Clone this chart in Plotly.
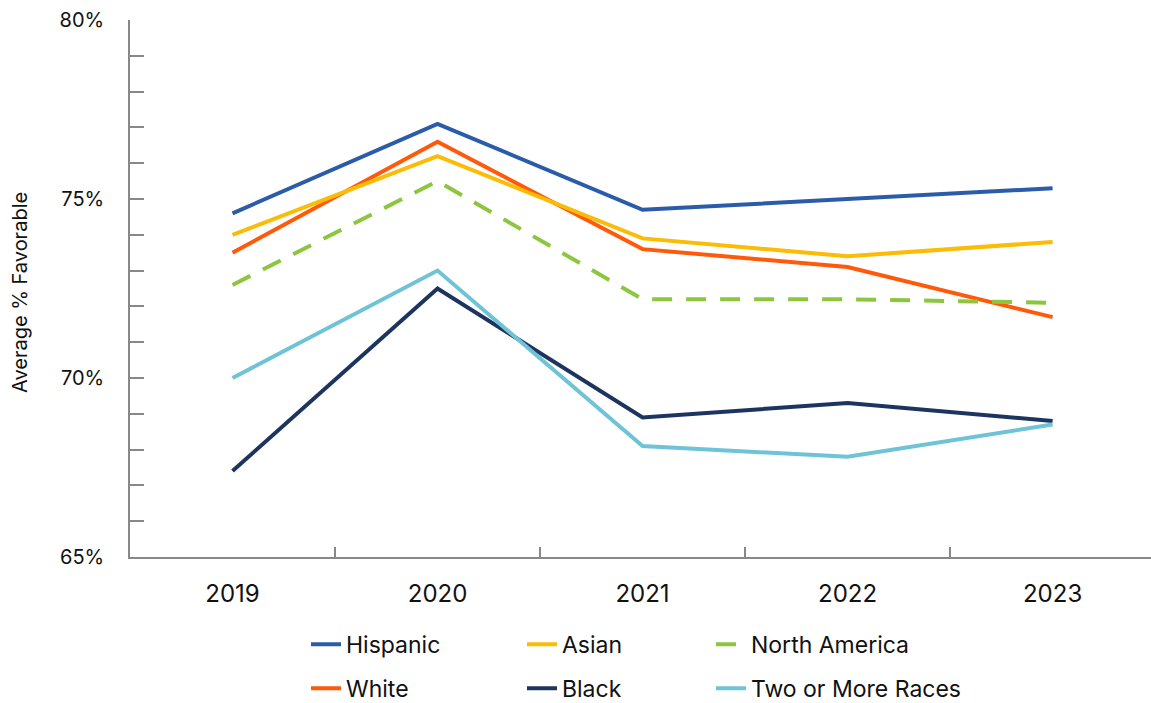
import plotly.graph_objects as go

years = ["2019", "2020", "2021", "2022", "2023"]

hispanic = [74.6, 77.1, 74.7, 75.0, 75.3]
asian = [74.0, 76.2, 73.9, 73.4, 73.8]
north_america = [72.6, 75.5, 72.2, 72.2, 72.1]
white = [73.5, 76.6, 73.6, 73.1, 71.7]
black = [67.4, 72.5, 68.9, 69.3, 68.8]
two_or_more = [70.0, 73.0, 68.1, 67.8, 68.7]

y_ticks = [65, 70, 75, 80]
y_tick_labels = ["65%", "70%", "75%", "80%"]
y_title = "Average % Favorable"

series = [
    ("Hispanic", hispanic, "#2a5caa", "solid", "legend"),
    ("White", white, "#ff5a0a", "solid", "legend"),
    ("Asian", asian, "#fbbc05", "solid", "legend2"),
    ("Black", black, "#1d355e", "solid", "legend2"),
    ("North America", north_america, "#8cc63e", "20px,14px", "legend3"),
    ("Two or More Races", two_or_more, "#6fc3d6", "solid", "legend3"),
]

fig = go.Figure()
for name, vals, color, dash, leg in series:
    fig.add_trace(go.Scatter(
        x=years, y=vals, name=name, mode="lines",
        line=dict(color=color, width=4, dash=dash),
        legend=leg, legendgroup=name,
    ))

font_family = "Inter, 'Open Sans', sans-serif"
axis_color = "#888888"

legend_common = dict(
    orientation="v", xref="container", yref="container",
    xanchor="left", yanchor="top", y=0.114,
    font=dict(family=font_family, size=23, color="#111111"),
    tracegroupgap=11, bgcolor="rgba(0,0,0,0)",
)

fig.update_layout(
    width=1151, height=703,
    margin=dict(l=130, r=0, t=20, b=146, autoexpand=False),
    plot_bgcolor="white", paper_bgcolor="white",
    font=dict(family=font_family, color="#111111"),
    showlegend=True,
    legend=dict(x=306 / 1151, **legend_common),
    legend2=dict(x=522 / 1151, **legend_common),
    legend3=dict(x=711 / 1151, **legend_common),
    xaxis=dict(
        type="category",
        range=[-0.5, 4.48],
        tickson="boundaries",
        ticks="inside", ticklen=10, tickcolor=axis_color, tickwidth=1.5,
        showgrid=False, zeroline=False,
        showline=True, linecolor=axis_color, linewidth=1.5,
        tickfont=dict(size=24, color="#111111"),
        tickangle=0,
        ticklabelstandoff=14,
    ),
    yaxis=dict(
        range=[65, 80],
        tickmode="array", tickvals=y_ticks, ticktext=y_tick_labels,
        ticks="inside", ticklen=14, tickcolor=axis_color, tickwidth=1.5,
        showgrid=False, zeroline=False,
        showline=True, linecolor=axis_color, linewidth=1.5,
        tickfont=dict(size=20, color="#111111"),
        ticklabelstandoff=20,
        minor=dict(dtick=1, tick0=65, ticks="inside", ticklen=14,
                   tickcolor=axis_color, tickwidth=1.5, showgrid=False),
    ),
    annotations=[dict(
        text=y_title, textangle=-90, showarrow=False,
        xref="paper", yref="paper", x=-110 / 1021, y=264 / 537,
        xanchor="center", yanchor="middle",
        font=dict(family=font_family, size=20, color="#111111"),
    )],
)

fig.write_html("out.html")
